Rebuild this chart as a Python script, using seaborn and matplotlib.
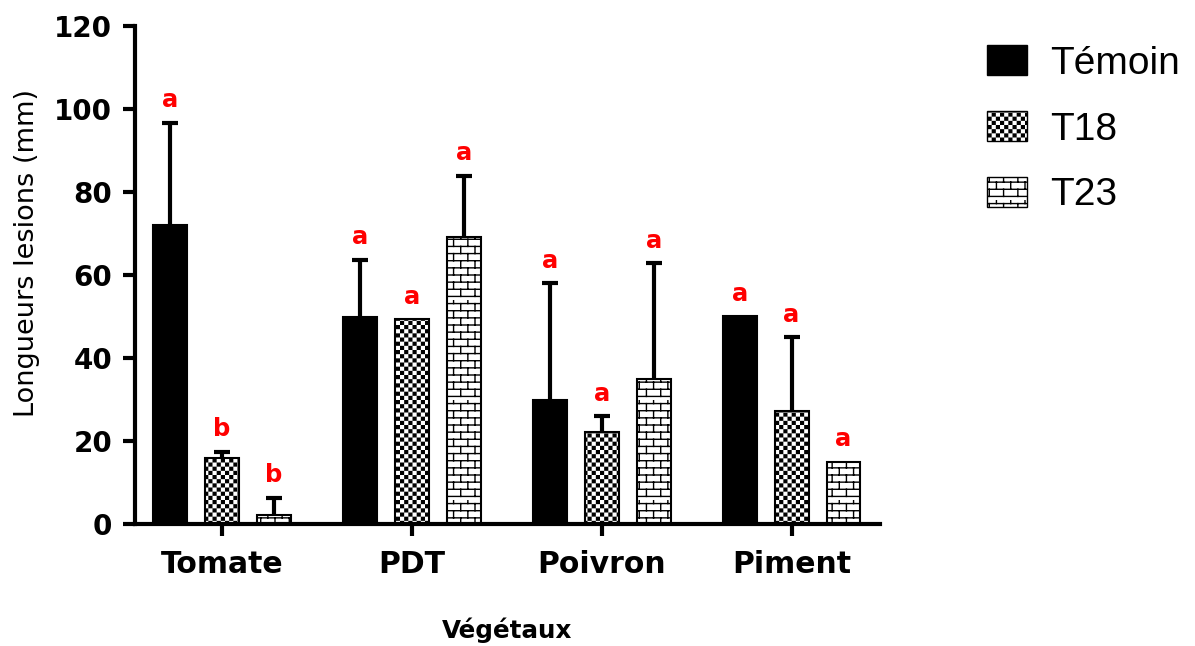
import warnings

import matplotlib
matplotlib.use("Agg")
import matplotlib.hatch as mhatch
import matplotlib.pyplot as plt
import numpy as np
import pandas as pd
import seaborn as sns
from matplotlib.patches import Patch
from matplotlib.path import Path
from matplotlib.font_manager import FontProperties

warnings.filterwarnings("ignore", message=".*hatch must consist.*")

# ------------------------------------------------------------
# Données
# ------------------------------------------------------------
vegetaux = ["Tomate", "PDT", "Poivron", "Piment"]
traitements = ["Témoin", "T18", "T23"]

temoin_moy = [72.0, 49.9, 29.9, 50.0]
temoin_err = [24.7, 13.8, 28.1, 0.0]
t18_moy = [15.8, 49.3, 22.2, 27.1]
t18_err = [1.6, 0.0, 3.7, 17.9]
t23_moy = [2.2, 69.2, 34.9, 15.0]
t23_err = [4.1, 14.7, 27.9, 0.0]

temoin_lettres = ["a", "a", "a", "a"]
t18_lettres = ["b", "a", "a", "a"]
t23_lettres = ["b", "a", "a", "a"]


# ------------------------------------------------------------
# Motifs de remplissage : damier et briques
# ------------------------------------------------------------
class CheckerHatch(mhatch.HatchPatternBase):
    def __init__(self, hatch, density):
        self.n = 24 * hatch.count("c")
        self.num_vertices = (self.n * self.n // 2) * 5

    def set_vertices_and_codes(self, vertices, codes):
        n = self.n
        s = 1.0 / n
        m = 0.007  # retrait pour l'épaisseur du trait
        k = 0
        for i in range(n):
            for j in range(n):
                if (i + j) % 2:
                    continue
                x0, y0 = j * s + m, i * s + m
                x1, y1 = (j + 1) * s - m, (i + 1) * s - m
                vertices[k:k + 5] = [(x0, y0), (x1, y0), (x1, y1), (x0, y1), (x0, y0)]
                codes[k:k + 5] = [Path.MOVETO, Path.LINETO, Path.LINETO,
                                  Path.LINETO, Path.CLOSEPOLY]
                k += 5


class BrickHatch(mhatch.HatchPatternBase):
    def __init__(self, hatch, density):
        self.rows = 14 * hatch.count("k")
        self.cols = 7 * hatch.count("k")
        self.num_vertices = 2 * self.rows + 2 * self.rows * self.cols

    def set_vertices_and_codes(self, vertices, codes):
        rows, cols = self.rows, self.cols
        k = 0
        for i in range(rows):
            y = (i + 0.5) / rows
            vertices[k:k + 2] = [(0.0, y), (1.0, y)]
            codes[k:k + 2] = [Path.MOVETO, Path.LINETO]
            k += 2
        for i in range(rows):
            off = 0.0 if i % 2 == 0 else 0.5
            y0, y1 = (i + 0.5) / rows, (i + 1.5) / rows
            for j in range(cols):
                x = (j + off + 0.25) / cols
                vertices[k:k + 2] = [(x, y0), (x, min(y1, 1.0))]
                codes[k:k + 2] = [Path.MOVETO, Path.LINETO]
                k += 2


mhatch._hatch_types.extend([CheckerHatch, BrickHatch])

# ------------------------------------------------------------
# Tableau long pour seaborn
# ------------------------------------------------------------
df = pd.DataFrame({
    "vegetal": vegetaux * 3,
    "traitement": np.repeat(traitements, len(vegetaux)),
    "longueur": temoin_moy + t18_moy + t23_moy,
})
erreurs = [temoin_err, t18_err, t23_err]
lettres = [temoin_lettres, t18_lettres, t23_lettres]
couleurs = {"Témoin": "black", "T18": "white", "T23": "white"}
motifs = ["", "c", "k"]

sns.set_style("ticks")
plt.rcParams["font.family"] = ["DejaVu Sans"]
plt.rcParams["hatch.linewidth"] = 1.0
plt.rcParams["hatch.color"] = "black"
for k in ["text.color", "axes.labelcolor", "xtick.color", "ytick.color", "axes.edgecolor"]:
    plt.rcParams[k] = "black"

fig = plt.figure(figsize=(11.95, 6.46), dpi=100)
ax = fig.add_axes([0.113, 0.189, 0.623, 0.771])

sns.barplot(data=df, x="vegetal", y="longueur", hue="traitement",
            hue_order=traitements, order=vegetaux, palette=couleurs,
            saturation=1, width=0.82, gap=0.347, edgecolor="black",
            linewidth=1.5, errorbar=None, legend=False, ax=ax)

for cont, motif, errs, lets in zip(ax.containers, motifs, erreurs, lettres):
    for bar, e, lettre in zip(cont, errs, lets):
        bar.set_hatch(motif)
        x = bar.get_x() + bar.get_width() / 2
        h = bar.get_height()
        haut = h + e
        if e > 0:
            ax.vlines(x, h, haut, color="black", lw=3, zorder=3)
            ax.plot([x], [haut], marker="_", ms=12, mew=3, color="black", zorder=3)
        ax.annotate(lettre, (x, haut), xytext=(0, 11), textcoords="offset points",
                    ha="center", va="baseline", color="red", fontsize=17.5,
                    fontweight="bold")

ax.set_ylim(0, 120)
ax.set_xlim(-0.458, 3.463)
ax.set_yticks(range(0, 121, 20))
sns.despine(ax=ax)
for s in ["left", "bottom"]:
    ax.spines[s].set_linewidth(3)
ax.tick_params(axis="both", width=3, length=8.5, color="black")
ax.tick_params(axis="y", labelsize=20, pad=8)
ax.tick_params(axis="x", labelsize=21.5, pad=10)
plt.setp(ax.get_xticklabels(), fontweight="bold")
plt.setp(ax.get_yticklabels(), fontweight="bold")

ax.set_xlabel("Végétaux", fontsize=17.7, fontweight="bold", labelpad=28)
ax.set_ylabel("Longueurs lesions (mm)", fontsize=19.5)
ax.yaxis.set_label_coords(-0.128, 0.544)

handles = [Patch(facecolor=couleurs[t], edgecolor="black", hatch=m, linewidth=1)
           for t, m in zip(traitements, motifs)]
ax.legend(handles, traitements, loc="upper left", bbox_to_anchor=(0.826, 0.93),
          bbox_transform=fig.transFigure, frameon=False,
          prop=FontProperties(family="Liberation Sans", size=28),
          handlelength=1.03, handleheight=0.8, handletextpad=0.6,
          labelspacing=0.76, borderpad=0, borderaxespad=0)

fig.savefig("out.png", dpi=100)
